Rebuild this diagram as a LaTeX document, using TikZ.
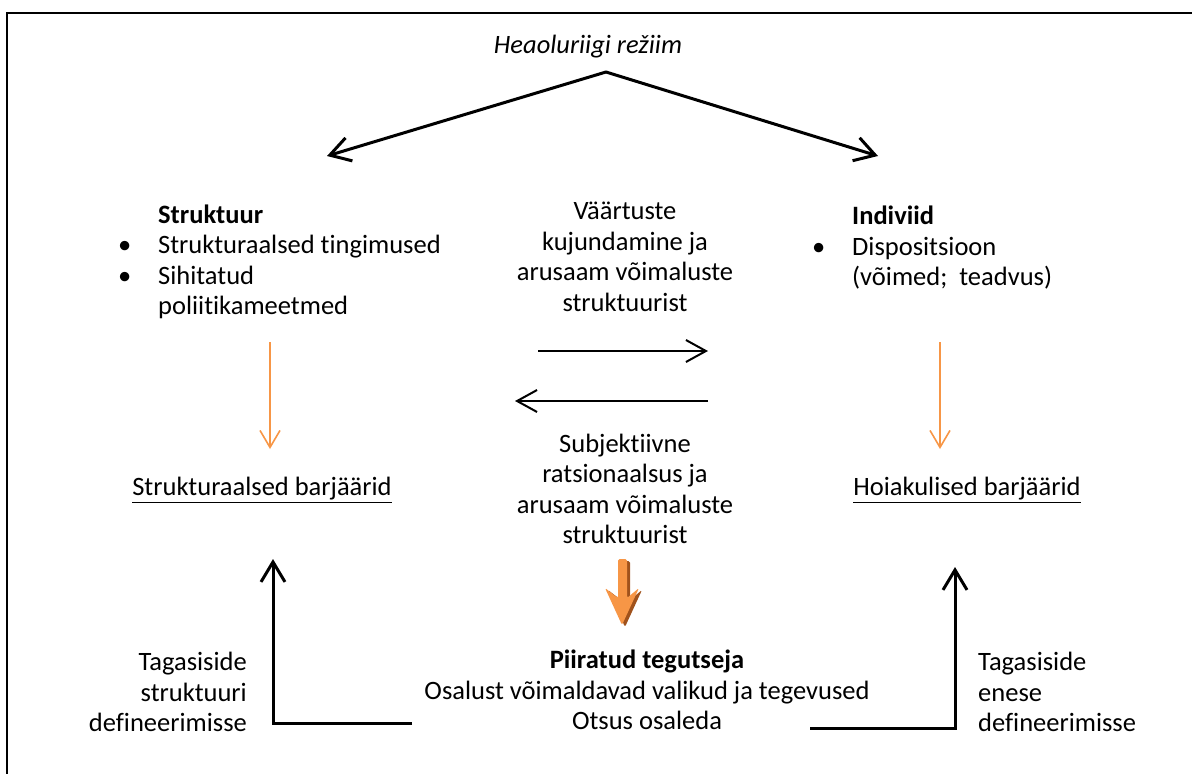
\documentclass[tikz,border=0pt]{standalone}
\usepackage{fontspec}
\setmainfont{Carlito}[Ligatures={NoCommon,NoContextual,NoRequired},Contextuals=NoAlternate]
\usetikzlibrary{arrows.meta}
\definecolor{oranz}{HTML}{F79646}
\definecolor{oranzvari}{HTML}{A0521C}
\tikzset{
  txt/.style={font=\fontsize{26.5}{30.5}\selectfont, inner sep=0pt},
  must/.style={draw, line width=3pt, line cap=round, -{Straight Barb[length=20pt,width=24pt]}},
  ohuke/.style={draw, line width=2pt, -{Straight Barb[length=20pt,width=22pt]}},
  oranznool/.style={draw=oranz, line width=1.6pt, -{Straight Barb[length=17pt,width=20pt]}},
}
\newcommand{\punkt}{\llap{\textbullet\hspace{27pt}}}
\begin{document}
\begin{tikzpicture}[x=1pt,y=-1pt]
\useasboundingbox (0,0) rectangle (1192,774);
\draw[line width=1.8pt] (7,13) rectangle (1230,800);

% heaoluriik ja kaks haru
\node[txt] (rezhiim) at (588,47) {\itshape Heaoluriigi režiim};
\coordinate (tipp) at (606,72);
\coordinate (vasak) at (327,156);
\coordinate (parem) at (878,156);
\draw (tipp) edge[must] (vasak);
\draw (tipp) edge[must] (parem);

% struktuur ja indiviid
\node[txt, anchor=west, align=left] (struktuur) at (158,262)
  {\textbf{Struktuur}\\\punkt Strukturaalsed tingimused\\\punkt Sihitatud\\poliitikameetmed};
\node[txt, anchor=west, align=left] (indiviid) at (852,248)
  {\textbf{Indiviid}\\\punkt Dispositsioon\\(võimed;~ teadvus)};

% keskmised tekstid ja nooled
\node[txt, align=center] (vaartus) at (625,257)
  {Väärtuste\\kujundamine ja\\arusaam võimaluste\\struktuurist};
\node[txt, align=center] (subj) at (625,489)
  {Subjektiivne\\ratsionaalsus ja\\arusaam võimaluste\\struktuurist};
\coordinate (k1) at (538,351);
\coordinate (k2) at (708,351);
\coordinate (k3) at (708,401);
\coordinate (k4) at (515,401);
\draw (k1) edge[ohuke] (k2);
\draw (k3) edge[ohuke] (k4);

% barjäärid
\coordinate (o1) at (270,342);
\coordinate (o2) at (270,449);
\coordinate (o3) at (940,342);
\coordinate (o4) at (940,449);
\draw (o1) edge[oranznool] (o2);
\draw (o3) edge[oranznool] (o4);
\node[txt] (sbar) at (262,490) {\underline{Strukturaalsed barjäärid}};
\node[txt] (hbar) at (967,490) {\underline{Hoiakulised barjäärid}};

% paks oranž nool
\fill[oranzvari, rounded corners=1.5pt, shift={(3,2)}] (618,559) -- (627,559) -- (627,598)
  -- (639,588) -- (622,625) -- (605,588) -- (618,598) -- cycle;
\fill[oranz, rounded corners=1.5pt] (618,559) -- (627,559) -- (627,598)
  -- (639,588) -- (622,625) -- (605,588) -- (618,598) -- cycle;

% piiratud tegutseja
\node[txt, align=center] (tegutseja) at (647,690)
  {\textbf{Piiratud tegutseja}\\Osalust võimaldavad valikud ja tegevused\\Otsus osaleda};

% tagasiside
\coordinate (va) at (412,723);
\coordinate (vo) at (273,559);
\coordinate (pa) at (810,728);
\coordinate (po) at (955,567);
\draw[must, line cap=butt] (va) -| (vo);
\draw[must, line cap=butt] (pa) -| (po);
\node[txt, anchor=east, align=right] (tagasi1) at (247,692) {Tagasiside\\struktuuri\\defineerimisse};
\node[txt, anchor=west, align=left] (tagasi2) at (978,692) {Tagasiside\\enese\\defineerimisse};
\end{tikzpicture}
\end{document}
